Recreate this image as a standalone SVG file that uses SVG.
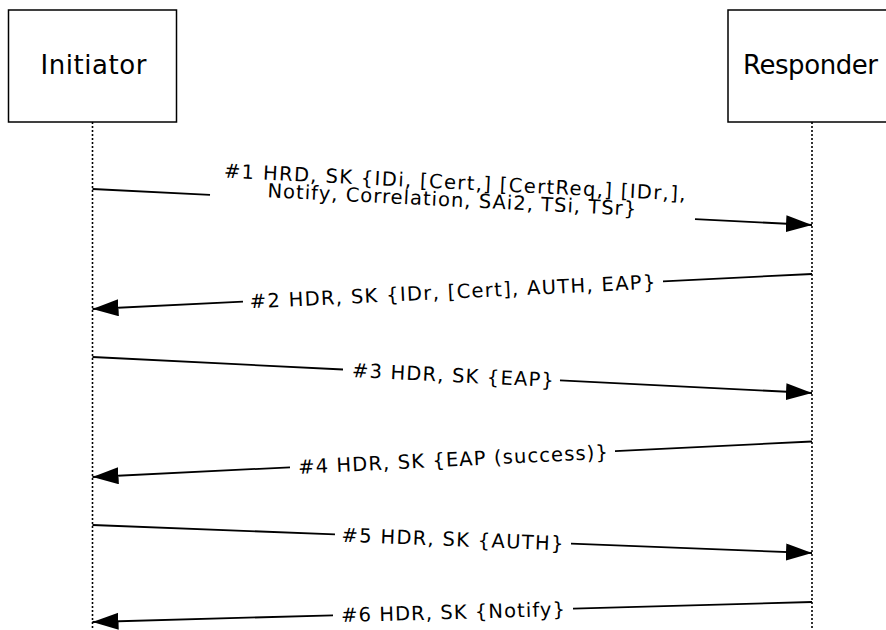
<svg xmlns="http://www.w3.org/2000/svg" width="886" height="630" viewBox="0 0 886 630">
<style>
.box{fill:#fff;stroke:#000;stroke-width:1.5}
.lbl{font-family:"DejaVu Sans",Verdana,sans-serif;font-size:26px;fill:#000;text-anchor:middle}
.life{stroke:#000;stroke-width:1.6;stroke-dasharray:2 2;fill:none}
.msg{stroke:#000;stroke-width:1.8;fill:none}
.mt{font-family:"DejaVu Sans",Verdana,sans-serif;font-size:19.5px;fill:#000;text-anchor:middle}
</style>
<defs>
<marker id="ah" markerUnits="userSpaceOnUse" markerWidth="27" markerHeight="18" refX="26" refY="8.5" orient="auto">
<path d="M0,0 L26,8.5 L0,17 z" fill="#000"/>
</marker>
</defs>
<g id="initiator">
<rect class="box" x="8.5" y="10" width="168" height="112"/>
<text class="lbl" x="93.5" y="74" textLength="106" lengthAdjust="spacing">Initiator</text>
</g>
<g id="responder">
<rect class="box" x="728" y="10" width="168" height="112"/>
<text class="lbl" x="810.5" y="74" textLength="135" lengthAdjust="spacing">Responder</text>
</g>
<g id="lifelines">
<line class="life" x1="92.5" y1="122" x2="92.5" y2="630"/>
<line class="life" x1="812" y1="122" x2="812" y2="630"/>
</g>
<g id="connectors">
<line class="msg" x1="92.5" y1="189" x2="210" y2="194.9"/>
<line class="msg" x1="695" y1="219.1" x2="812" y2="225" marker-end="url(#ah)"/>
<line class="msg" x1="812" y1="274" x2="663" y2="281.3"/>
<line class="msg" x1="243" y1="301.7" x2="92.5" y2="309" marker-end="url(#ah)"/>
<line class="msg" x1="92.5" y1="357" x2="343" y2="369.5"/>
<line class="msg" x1="560" y1="380.4" x2="812" y2="393" marker-end="url(#ah)"/>
<line class="msg" x1="812" y1="441.5" x2="615" y2="451.2"/>
<line class="msg" x1="290" y1="467.3" x2="92.5" y2="477" marker-end="url(#ah)"/>
<line class="msg" x1="92.5" y1="525" x2="335" y2="534.4"/>
<line class="msg" x1="571" y1="543.6" x2="812" y2="553" marker-end="url(#ah)"/>
<line class="msg" x1="812" y1="602" x2="573" y2="608.6"/>
<line class="msg" x1="333" y1="615.3" x2="92.5" y2="622" marker-end="url(#ah)"/>
</g>
<g id="labels">
<g transform="rotate(2.866 452.5 207)">
<text class="mt" x="453.5" y="189" textLength="462" lengthAdjust="spacing">#1 HRD, SK {IDi, [Cert,] [CertReq,] [IDr,],</text>
<text class="mt" x="451.5" y="206.5" textLength="369" lengthAdjust="spacing">Notify, Correlation, SAi2, TSi, TSr}</text>
</g>
<text class="mt" x="452.5" y="298.5" transform="rotate(-2.787 452.5 291.5)" textLength="406" lengthAdjust="spacing">#2 HDR, SK {IDr, [Cert], AUTH, EAP}</text>
<text class="mt" x="453" y="382" transform="rotate(2.866 452.5 375)" textLength="202" lengthAdjust="spacing">#3 HDR, SK {EAP}</text>
<text class="mt" x="453" y="466.3" transform="rotate(-2.826 452.5 459.3)" textLength="310" lengthAdjust="spacing">#4 HDR, SK {EAP (success)}</text>
<text class="mt" x="452.5" y="546" transform="rotate(2.23 452.5 539)" textLength="222" lengthAdjust="spacing">#5 HDR, SK {AUTH}</text>
<text class="mt" x="453" y="619" transform="rotate(-1.593 452.5 612)" textLength="224" lengthAdjust="spacing">#6 HDR, SK {Notify}</text>
</g>
</svg>
